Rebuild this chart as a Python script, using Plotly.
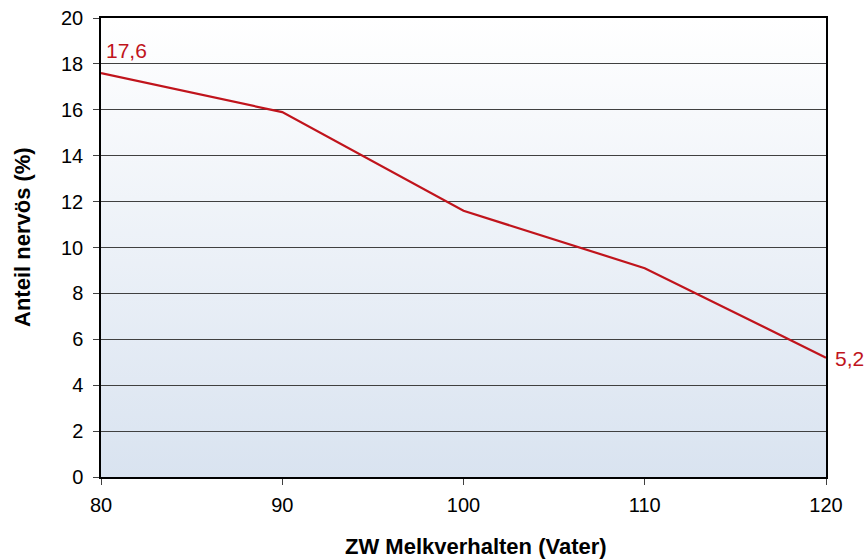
import plotly.graph_objects as go
import urllib.parse

x_vals = [80, 90, 100, 110, 120]
y_vals = [17.6, 15.9, 11.6, 9.1, 5.2]
x_ticks = [80, 90, 100, 110, 120]
y_ticks = [0, 2, 4, 6, 8, 10, 12, 14, 16, 18, 20]
x_title = "ZW Melkverhalten (Vater)"
y_title = "Anteil nervös (%)"

line_color = "#c0141c"
font_family = "Liberation Sans, Arial, sans-serif"

grad_svg = (
    "<svg xmlns='http://www.w3.org/2000/svg' width='10' height='100' preserveAspectRatio='none'>"
    "<defs><linearGradient id='g' x1='0' y1='0' x2='0' y2='1'>"
    "<stop offset='0' stop-color='#ffffff'/><stop offset='1' stop-color='#d9e3f0'/>"
    "</linearGradient></defs><rect width='10' height='100' fill='url(#g)'/></svg>"
)
grad_uri = "data:image/svg+xml;charset=utf-8," + urllib.parse.quote(grad_svg)

fig = go.Figure()

fig.add_trace(go.Scatter(
    x=x_vals, y=y_vals, mode="lines",
    line=dict(color=line_color, width=2.2),
    showlegend=False,
))

def fmt(v):
    return f"{v:.1f}".replace(".", ",")

fig.add_annotation(x=x_vals[0], y=y_vals[0], text=fmt(y_vals[0]),
                   showarrow=False, xanchor="left", yanchor="bottom",
                   xshift=3, yshift=9,
                   font=dict(color=line_color, size=21, family=font_family))
fig.add_annotation(x=x_vals[-1], y=y_vals[-1], text=fmt(y_vals[-1]),
                   showarrow=False, xanchor="left", yanchor="middle",
                   xshift=7, yshift=-1,
                   font=dict(color=line_color, size=21, family=font_family))

# axis titles as annotations for exact placement
fig.add_annotation(x=(476 - 101) / 725, y=-(546 - 477) / 459, xref="paper", yref="paper",
                   text=f"<b>{x_title}</b>", showarrow=False,
                   xanchor="center", yanchor="middle",
                   font=dict(size=22, family=font_family, color="black"))
fig.add_annotation(x=-(101 - 22) / 725, y=(477 - 237) / 459, xref="paper", yref="paper",
                   text=f"<b>{y_title}</b>", showarrow=False, textangle=-90,
                   xanchor="center", yanchor="middle",
                   font=dict(size=22, family=font_family, color="black"))

fig.add_layout_image(dict(
    source=grad_uri, xref="paper", yref="paper", x=0, y=1,
    sizex=1, sizey=1, xanchor="left", yanchor="top",
    sizing="stretch", layer="below",
))

fig.update_layout(
    width=868, height=560,
    margin=dict(l=101, r=42, t=18, b=83, autoexpand=False),
    paper_bgcolor="white", plot_bgcolor="white",
    font=dict(family=font_family, color="black", size=20),
    xaxis=dict(range=[x_ticks[0], x_ticks[-1]], tickvals=x_ticks,
               showgrid=False, zeroline=False,
               showline=True, linecolor="black", linewidth=1.5, mirror=True,
               ticks="outside", ticklen=6, tickcolor="#404040",
               ticklabelstandoff=3,
               tickfont=dict(size=20)),
    yaxis=dict(range=[y_ticks[0], y_ticks[-1]], tickvals=y_ticks,
               showgrid=True, gridcolor="#404040", gridwidth=1, zeroline=False,
               showline=True, linecolor="black", linewidth=1.5, mirror=True,
               ticks="outside", ticklen=6, tickcolor="#404040",
               ticklabelstandoff=6,
               tickfont=dict(size=20)),
)

fig.write_html("out.html", config={"displayModeBar": False},
               post_script="document.body.style.margin='0';")
